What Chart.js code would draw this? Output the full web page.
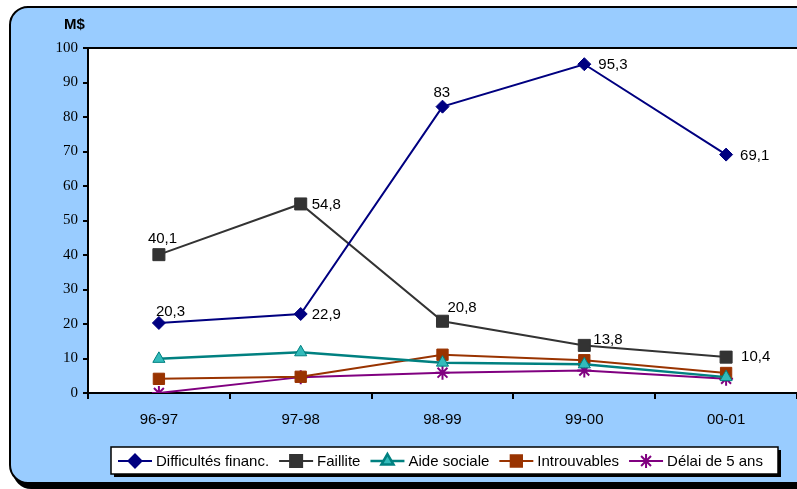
<!DOCTYPE html>
<html lang="fr">
<head>
<meta charset="utf-8">
<title>M$ par exercice</title>
<script src="https://cdn.jsdelivr.net/npm/chart.js@4.4.1/dist/chart.umd.min.js"></script>
<style>
  html, body { margin: 0; padding: 0; background: #fff; }
  canvas { display: block; }
</style>
</head>
<body>
<canvas id="chart" width="797" height="489"></canvas>
<script>
// Exercices financiers et montants (M$)
const years = ['96-97', '97-98', '98-99', '99-00', '00-01'];
const difficultes = [20.3, 22.9, 83, 95.3, 69.1];
const faillite = [40.1, 54.8, 20.8, 13.8, 10.4];
const aideSociale = [9.9, 11.8, 8.8, 8.3, 4.6];
const introuvables = [4.1, 4.7, 11.1, 9.5, 5.8];
const delai5ans = [0, 4.6, 5.9, 6.5, 4.1];

const SANS = 'Arial, "Liberation Sans", sans-serif';
const SERIF = '"Times New Roman", "Liberation Serif", serif';

function roundRect(ctx, x, y, w, h, r) {
    ctx.beginPath();
    ctx.moveTo(x + r, y);
    ctx.lineTo(x + w - r, y);
    ctx.arcTo(x + w, y, x + w, y + r, r);
    ctx.lineTo(x + w, y + h - r);
    ctx.arcTo(x + w, y + h, x + w - r, y + h, r);
    ctx.lineTo(x + r, y + h);
    ctx.arcTo(x, y + h, x, y + h - r, r);
    ctx.lineTo(x, y + r);
    ctx.arcTo(x, y, x + r, y, r);
    ctx.closePath();
}

// blue rounded panel, white plot area and the unit label
const framePlugin = {
    id: 'frame',
    beforeDraw(chart) {
        const { ctx, chartArea: a } = chart;
        ctx.save();
        ctx.fillStyle = '#fff';
        ctx.fillRect(0, 0, chart.width, chart.height);

        ctx.fillStyle = '#000';
        roundRect(ctx, 13, 11, 840, 478, 18);
        ctx.fill();
        ctx.fillStyle = '#99ccff';
        roundRect(ctx, 10, 7, 840, 476, 18);
        ctx.fill();
        ctx.lineWidth = 2;
        ctx.strokeStyle = '#000';
        ctx.stroke();

        ctx.fillStyle = '#fff';
        ctx.fillRect(a.left, a.top, a.right - a.left + 20, a.bottom - a.top);
        ctx.beginPath();
        ctx.moveTo(a.left, a.top);
        ctx.lineTo(a.right + 20, a.top);
        ctx.stroke();

        ctx.fillStyle = '#000';
        ctx.font = 'bold 15px ' + SANS;
        ctx.textBaseline = 'middle';
        ctx.fillText('M$', 64, 25);
        ctx.restore();
    }
};

// value labels on the first two series: [dx, dy] from the point, text left-aligned
const labelOffsets = {
    0: [[-3, -11], [11, 1], [-9, -14], [14, 1], [14, 1]],
    1: [[-11, -16], [11, 1], [5, -13], [9, -6], [15, 0]]
};

const valueLabels = {
    id: 'valueLabels',
    afterDatasetsDraw(chart) {
        const { ctx } = chart;
        ctx.save();
        ctx.font = '15px ' + SANS;
        ctx.fillStyle = '#000';
        ctx.textBaseline = 'middle';
        ctx.textAlign = 'left';
        Object.keys(labelOffsets).forEach(i => {
            const ds = chart.data.datasets[i];
            chart.getDatasetMeta(i).data.forEach((pt, j) => {
                const [dx, dy] = labelOffsets[i][j];
                const txt = String(ds.data[j]).replace('.', ',');
                ctx.fillText(txt, pt.x + dx, pt.y + dy);
            });
        });
        ctx.restore();
    }
};

// boxed legend under the axis
const boxLegend = {
    id: 'boxLegend',
    afterDraw(chart) {
        const { ctx } = chart;
        const box = { x: 111, y: 447, w: 667, h: 27 };
        const cy = 461;
        ctx.save();
        ctx.fillStyle = '#000';
        ctx.fillRect(box.x + 3, box.y + 3, box.w, box.h);
        ctx.fillStyle = '#fff';
        ctx.fillRect(box.x, box.y, box.w, box.h);
        ctx.strokeStyle = '#000';
        ctx.lineWidth = 1.5;
        ctx.strokeRect(box.x, box.y, box.w, box.h);

        ctx.font = '15px ' + SANS;
        ctx.textBaseline = 'middle';
        let x = 118;
        chart.data.datasets.forEach(ds => {
            ctx.strokeStyle = ds.borderColor;
            ctx.lineWidth = ds.borderWidth;
            ctx.beginPath();
            ctx.moveTo(x, cy);
            ctx.lineTo(x + 34, cy);
            ctx.stroke();

            ctx.fillStyle = ds.pointBackgroundColor;
            ctx.strokeStyle = ds.pointBorderColor;
            Chart.helpers.drawPoint(ctx, {
                pointStyle: ds.pointStyle,
                radius: ds.pointRadius,
                rotation: 0,
                borderWidth: ds.pointBorderWidth
            }, x + 17, cy);

            ctx.fillStyle = '#000';
            ctx.fillText(ds.label, x + 38, cy + 1);
            x += 38 + ctx.measureText(ds.label).width + 10;
        });
        ctx.restore();
    }
};

function series(label, data, color, fill, style, radius, width) {
    return {
        label,
        data,
        borderColor: color,
        borderWidth: width,
        pointStyle: style,
        pointRadius: radius,
        pointBackgroundColor: fill,
        pointBorderColor: color,
        pointBorderWidth: style === 'star' ? 2 : 1,
        tension: 0
    };
}

new Chart(document.getElementById('chart'), {
    type: 'line',
    data: {
        labels: years,
        datasets: [
            series('Difficultés financ.', difficultes, '#000080', '#000080', 'rectRot', 6.5, 2),
            series('Faillite', faillite, '#333333', '#333333', 'rect', 8.5, 2),
            series('Aide sociale', aideSociale, '#008080', '#33bbbb', 'triangle', 7, 2.5),
            series('Introuvables', introuvables, '#993300', '#993300', 'rect', 8, 2),
            series('Délai de 5 ans', delai5ans, '#800080', '#800080', 'star', 7, 2)
        ]
    },
    options: {
        responsive: false,
        animation: false,
        devicePixelRatio: 1,
        layout: { autoPadding: false, padding: { top: 48, left: 0, right: 0, bottom: 0 } },
        plugins: {
            legend: { display: false },
            tooltip: { enabled: false }
        },
        scales: {
            x: {
                offset: true,
                grid: { offset: true, drawOnChartArea: false, color: '#000', lineWidth: 2, tickLength: 6 },
                border: { color: '#000', width: 2 },
                ticks: { color: '#000', font: { family: SANS, size: 15 }, padding: 12, maxRotation: 0 },
                afterFit(scale) {
                    scale.height = 96;
                    // the plot runs to the right edge of the panel
                    scale.paddingLeft = 0;
                    scale.paddingRight = 0;
                }
            },
            y: {
                min: 0,
                max: 100,
                grid: { drawOnChartArea: false, color: '#000', lineWidth: 2, tickLength: 5 },
                border: { color: '#000', width: 2 },
                ticks: { stepSize: 10, color: '#000', font: { family: SERIF, size: 15 }, padding: 5 },
                afterFit(scale) { scale.width = 88; }
            }
        }
    },
    plugins: [framePlugin, valueLabels, boxLegend]
});
</script>
</body>
</html>
